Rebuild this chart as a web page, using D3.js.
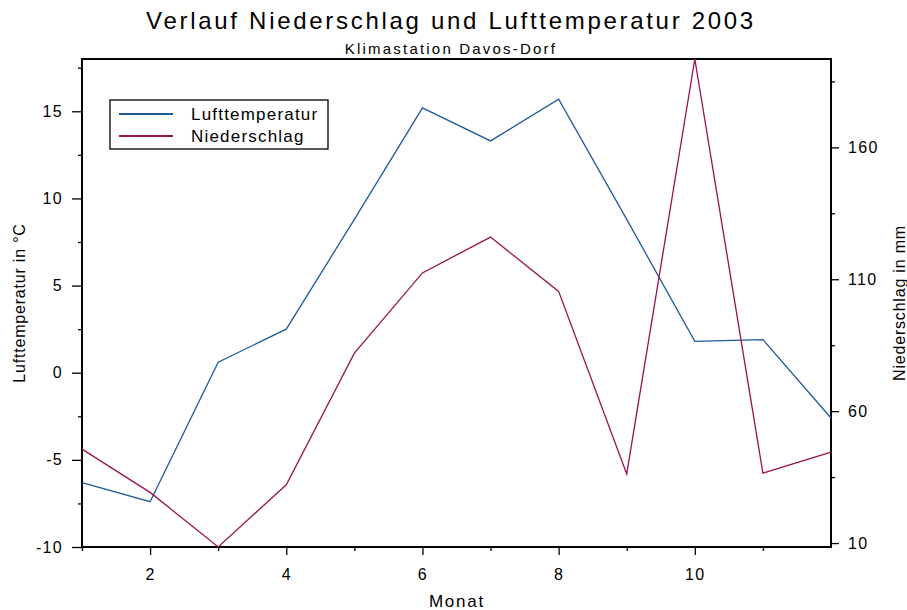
<!DOCTYPE html>
<html>
<head>
<meta charset="utf-8">
<script src="https://cdn.jsdelivr.net/npm/d3@7"></script>
<style>
  body { margin: 0; background: #fff; }
  text { font-family: "Liberation Sans", Arial, sans-serif; fill: #000; }
</style>
</head>
<body>
<div id="chart"></div>
<script>
// data
const months = [1, 2, 3, 4, 5, 6, 7, 8, 9, 10, 11, 12];
const lufttemperatur = [-6.3, -7.4, 0.6, 2.5, 8.8, 15.2, 13.3, 15.7, 8.8, 1.8, 1.9, -2.6];
const niederschlag = [45.6, 29.2, 8.5, 32.1, 82.0, 112.4, 126.0, 105.4, 36.2, 193.5, 36.5, 44.5];
const xTicksLabelled = [2, 4, 6, 8, 10];
const tempTicks = [-10, -5, 0, 5, 10, 15];
const rainTicks = [10, 60, 110, 160];

const width = 907, height = 610;
const margin = {top: 59, right: 76, bottom: 63, left: 82};
const blue = "#1d5a9c", red = "#9c1150";

const svg = d3.select("#chart").append("svg")
    .attr("width", width)
    .attr("height", height);

let x = d3.scaleLinear()
    .domain([1, 12])
    .range([margin.left, width - margin.right]);

let yT = d3.scaleLinear()
    .domain([-10, 18])
    .range([height - margin.bottom, margin.top]);

let yR = d3.scaleLinear()
    .domain([8.5, 193.5])
    .range([height - margin.bottom, margin.top]);

let plain = d => String(d);

// minor ticks first, then labelled ticks
let xAxisMinor = g => g
    .attr("transform", `translate(0,${height - margin.bottom})`)
    .call(d3.axisBottom(x).tickValues(months.filter(m => m % 2 == 1)).tickSize(4).tickFormat(""));
let xAxis = g => g
    .attr("transform", `translate(0,${height - margin.bottom})`)
    .call(d3.axisBottom(x).tickValues(xTicksLabelled).tickSize(8).tickPadding(14).tickFormat(plain));

let yAxisMinor = g => g
    .attr("transform", `translate(${margin.left},0)`)
    .call(d3.axisLeft(yT).tickValues(d3.range(-7.5, 18, 5)).tickSize(4).tickFormat(""));
let yAxis = g => g
    .attr("transform", `translate(${margin.left},0)`)
    .call(d3.axisLeft(yT).tickValues(tempTicks).tickSize(10).tickPadding(9).tickFormat(plain));

let y2AxisMinor = g => g
    .attr("transform", `translate(${width - margin.right},0)`)
    .call(d3.axisRight(yR).tickValues(d3.range(35, 190, 50)).tickSize(4).tickFormat(""));
let y2Axis = g => g
    .attr("transform", `translate(${width - margin.right},0)`)
    .call(d3.axisRight(yR).tickValues(rainTicks).tickSize(8).tickPadding(9).tickFormat(plain));

[xAxisMinor, xAxis, yAxisMinor, yAxis, y2AxisMinor, y2Axis].forEach(a => {
  svg.append("g").call(a)
     .call(g => g.select(".domain").remove())
     .call(g => g.selectAll(".tick line").attr("stroke", "#000").attr("stroke-width", 1.3))
     .call(g => g.selectAll(".tick text")
        .style("font-size", "16px")
        .style("letter-spacing", "1.3px")
        .style("font-family", "Liberation Sans, Arial, sans-serif"));
});

// frame
svg.append("rect")
    .attr("x", margin.left)
    .attr("y", margin.top)
    .attr("width", width - margin.left - margin.right)
    .attr("height", height - margin.top - margin.bottom)
    .attr("fill", "none")
    .attr("stroke", "#000")
    .attr("stroke-width", 2);

let lineT = d3.line().x((d, i) => x(months[i])).y(d => yT(d));
let lineR = d3.line().x((d, i) => x(months[i])).y(d => yR(d));

svg.append("path")
    .datum(lufttemperatur)
    .attr("d", lineT)
    .attr("fill", "none")
    .attr("stroke", blue)
    .attr("stroke-width", 1.3);

svg.append("path")
    .datum(niederschlag)
    .attr("d", lineR)
    .attr("fill", "none")
    .attr("stroke", red)
    .attr("stroke-width", 1.3);

// titles
svg.append("text")
    .attr("x", 451)
    .attr("y", 29)
    .attr("text-anchor", "middle")
    .style("font-size", "24px")
    .style("letter-spacing", "2.7px")
    .text("Verlauf Niederschlag und Lufttemperatur 2003");

svg.append("text")
    .attr("x", 451)
    .attr("y", 54)
    .attr("text-anchor", "middle")
    .style("font-size", "15px")
    .style("letter-spacing", "2.2px")
    .text("Klimastation Davos-Dorf");

svg.append("text")
    .attr("x", 457)
    .attr("y", 607)
    .attr("text-anchor", "middle")
    .style("font-size", "17px")
    .style("letter-spacing", "1.8px")
    .text("Monat");

svg.append("text")
    .attr("transform", `translate(25,${(margin.top + height - margin.bottom) / 2}) rotate(-90)`)
    .attr("text-anchor", "middle")
    .style("font-size", "16px")
    .style("letter-spacing", "0.8px")
    .text("Lufttemperatur in °C");

svg.append("text")
    .attr("transform", `translate(905,${(margin.top + height - margin.bottom) / 2}) rotate(-90)`)
    .attr("text-anchor", "middle")
    .style("font-size", "16px")
    .style("letter-spacing", "0.8px")
    .text("Niederschlag in mm");

// legend
const legend = svg.append("g").attr("transform", "translate(110,100)");
legend.append("rect")
    .attr("width", 218)
    .attr("height", 49)
    .attr("fill", "#fff")
    .attr("stroke", "#000")
    .attr("stroke-width", 1.3);

[["Lufttemperatur", blue], ["Niederschlag", red]].forEach(([name, col], i) => {
  legend.append("line")
      .attr("x1", 9).attr("x2", 63)
      .attr("y1", 14 + i * 22).attr("y2", 14 + i * 22)
      .attr("stroke", col)
      .attr("stroke-width", 2);
  legend.append("text")
      .attr("x", 81)
      .attr("y", 20 + i * 22)
      .style("font-size", "17px")
      .style("letter-spacing", "1.2px")
      .text(name);
});
</script>
</body>
</html>
